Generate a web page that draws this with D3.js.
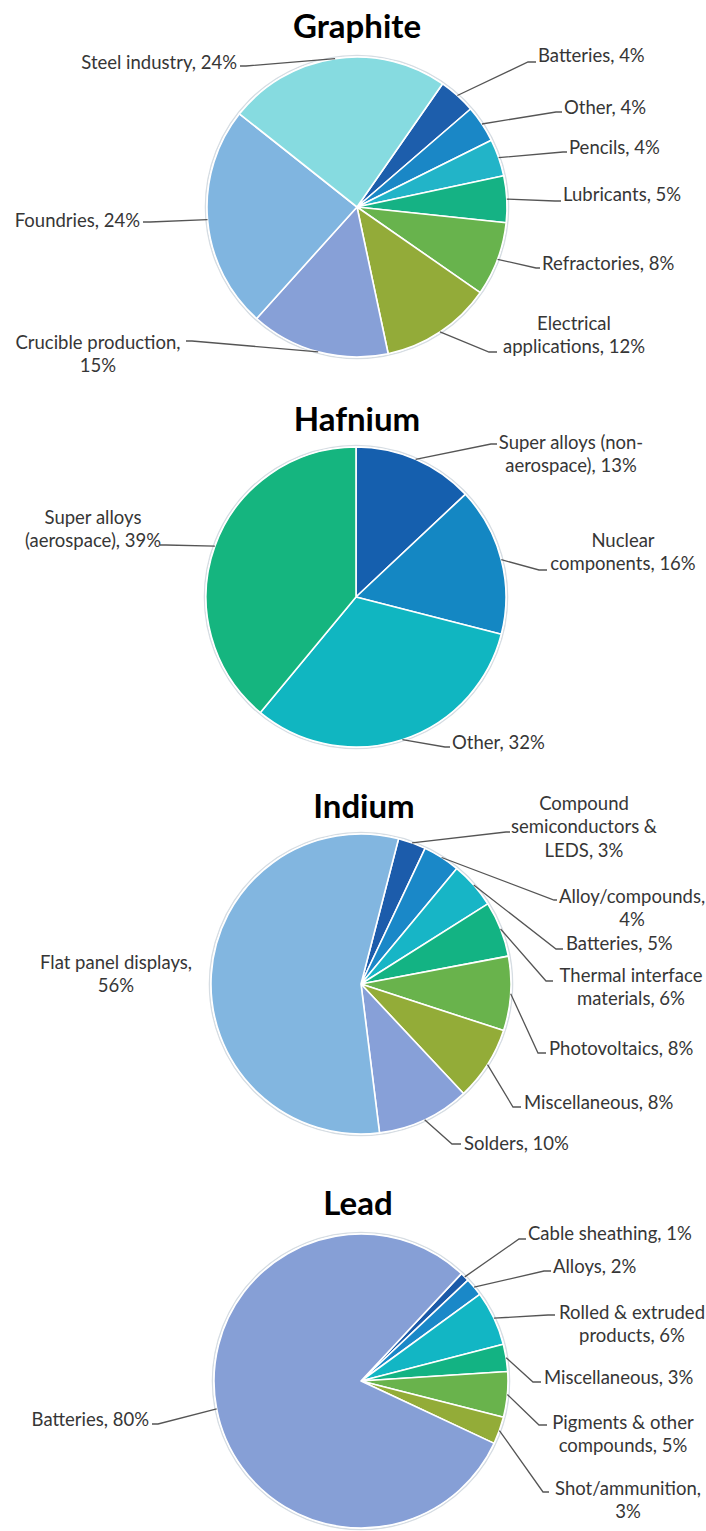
<!DOCTYPE html>
<html>
<head>
<meta charset="utf-8">
<script src="https://cdn.jsdelivr.net/npm/d3@7"></script>
<style>
  html, body { margin: 0; padding: 0; background: #fff; }
  svg { display: block; }
  .lbl { font-family: Lato, "Open Sans", sans-serif; font-size: 18.5px; fill: #363636; }
  .ttl { font-family: Lato, "Open Sans", sans-serif; font-weight: 700; font-size: 33px; fill: #000; }
  .leader { fill: none; stroke: #555; stroke-width: 1.3; }
</style>
</head>
<body>
<svg id="chart" width="706" height="1531"></svg>
<script>
// ---- Data: end uses by share (%) ----
const graphiteCategories = ["Batteries", "Other", "Pencils", "Lubricants", "Refractories",
  "Electrical applications", "Crucible production", "Foundries", "Steel industry"];
const graphiteValues = [4, 4, 4, 5, 8, 12, 15, 24, 24];

const hafniumCategories = ["Super alloys (non-aerospace)", "Nuclear components", "Other",
  "Super alloys (aerospace)"];
const hafniumValues = [13, 16, 32, 39];

const indiumCategories = ["Compound semiconductors & LEDS", "Alloy/compounds", "Batteries",
  "Thermal interface materials", "Photovoltaics", "Miscellaneous", "Solders", "Flat panel displays"];
const indiumValues = [3, 4, 5, 6, 8, 8, 10, 56];

const leadCategories = ["Cable sheathing", "Alloys", "Rolled & extruded products", "Miscellaneous",
  "Pigments & other compounds", "Shot/ammunition", "Batteries"];
const leadValues = [1, 2, 6, 3, 5, 3, 80];

// ---- Slice colours ----
const graphiteColors = ["#1d5eac", "#1a87c6", "#22b4c8", "#15b284", "#68b34d", "#93ab39",
  "#87a0d7", "#80b5e0", "#86dbe0"];
const hafniumColors = ["#155fae", "#1487c3", "#10b6c1", "#15b57f"];
const indiumColors = ["#1c5cab", "#1a88c8", "#17b5c6", "#13b383", "#69b34c", "#93ac38",
  "#87a0d8", "#82b6e0"];
const leadColors = ["#1b5aa8", "#1a88c8", "#12b6c4", "#13b383", "#69b34c", "#93ac38", "#869fd6"];

// ---- Layout of each panel: pie geometry, title and label placement ----
const graphiteLayout = {
  title: "Graphite", titleX: 357, titleY: 26, cx: 357, cy: 207, r: 150, start: 34.8,
  labels: [
    { x: 538, y: 55, a: "start", lead: [[528, 62], [536, 62]] },
    { x: 564, y: 107, a: "start", lead: [[556, 112], [562, 112]] },
    { x: 569, y: 147, a: "start", lead: [[563, 152], [567, 152]] },
    { x: 563, y: 194, a: "start", lead: [[555, 201], [561, 201]] },
    { x: 542, y: 263, a: "start", lead: [[536, 268], [540, 268]] },
    { x: 574, y: 323, a: "middle", br: ["Electrical"], lead: [[489, 352], [497, 352]] },
    { x: 98, y: 342, a: "middle", br: ["production,"], lead: [[192, 341], [186, 341]] },
    { x: 140, y: 220, a: "end", lead: [[150, 222], [143, 222]] },
    { x: 237, y: 62, a: "end", lead: [[246, 66], [240, 66]] }
  ]
};

const hafniumLayout = {
  title: "Hafnium", titleX: 357, titleY: 419, cx: 356, cy: 597, r: 150, start: 0,
  labels: [
    { x: 571, y: 442, a: "middle", br: ["(non-"], lead: [[491, 444], [497, 444]] },
    { x: 623, y: 540, a: "middle", br: ["Nuclear"], lead: [[539, 570], [547, 570]] },
    { x: 452, y: 742, a: "start", lead: [[445, 747], [450, 747]] },
    { x: 93, y: 517, a: "middle", br: ["alloys"], lead: [[166, 545], [160, 545]] }
  ]
};

const indiumLayout = {
  title: "Indium", titleX: 364, titleY: 806, cx: 361, cy: 984, r: 150, start: 14.5,
  labels: [
    { x: 584, y: 803, a: "middle", br: ["Compound", "semiconductors &"], lead: [[506, 832], [510, 832]] },
    { x: 632, y: 896, a: "middle", br: ["compounds,"], lead: [[554, 900], [557, 900]] },
    { x: 566, y: 943, a: "start", lead: [[556, 949], [563, 949]] },
    { x: 631, y: 975, a: "middle", br: ["interface"], lead: [[546, 981], [553, 981]] },
    { x: 549, y: 1048, a: "start", lead: [[538, 1053], [546, 1053]] },
    { x: 524, y: 1102, a: "start", lead: [[513, 1107], [521, 1107]] },
    { x: 464, y: 1143, a: "start", lead: [[452, 1144], [461, 1144]] },
    { x: 116, y: 962, a: "middle", br: ["displays,"], lead: null }
  ]
};

const leadLayout = {
  title: "Lead", titleX: 358, titleY: 1203, cx: 361, cy: 1381, r: 147, start: 43.1,
  labels: [
    { x: 528, y: 1233, a: "start", lead: [[519, 1239], [526, 1239]] },
    { x: 553, y: 1266, a: "start", lead: [[544, 1271], [551, 1271]] },
    { x: 632, y: 1312, a: "middle", br: ["extruded"], lead: [[548, 1315], [555, 1315]] },
    { x: 544, y: 1377, a: "start", lead: [[533, 1382], [541, 1382]] },
    { x: 623, y: 1422, a: "middle", br: ["other"], lead: [[539, 1425], [547, 1425]] },
    { x: 628, y: 1488, a: "middle", br: ["ammunition,"], lead: [[543, 1492], [549, 1492]] },
    { x: 149, y: 1419, a: "end", lead: [[158, 1424], [152, 1424]] }
  ]
};

const LINE_HEIGHT = 23.5;
const svg = d3.select("#chart");

// Split a label after each given marker, in order.
function splitLines(text, markers) {
  if (!markers) return [text];
  const lines = [];
  let rest = text;
  markers.forEach(m => {
    const i = rest.indexOf(m);
    if (i >= 0) {
      lines.push(rest.slice(0, i + m.length).trim());
      rest = rest.slice(i + m.length).trim();
    }
  });
  lines.push(rest);
  return lines;
}

function drawPie(categories, values, colors, layout) {
  const g = svg.append("g").attr("class", "panel");
  const rad = Math.PI / 180;
  const start = layout.start * rad;

  const pie = d3.pie().sort(null).value(d => d.value)
    .startAngle(start).endAngle(start + 2 * Math.PI);
  const arcs = pie(categories.map((c, i) => ({ name: c, value: values[i] })));

  const arc = d3.arc().innerRadius(0).outerRadius(layout.r);
  const edge = d3.arc().innerRadius(layout.r).outerRadius(layout.r);
  const color = d3.scaleOrdinal().domain(categories).range(colors);

  const pieG = g.append("g").attr("transform", `translate(${layout.cx},${layout.cy})`);

  // soft rim around the disc
  pieG.append("circle")
    .attr("r", layout.r + 1.6)
    .attr("fill", "#fff")
    .attr("stroke", "#d6dde3")
    .attr("stroke-width", 1.4);

  pieG.selectAll("path.slice")
    .data(arcs)
    .join("path")
    .attr("class", "slice")
    .attr("d", arc)
    .attr("fill", d => color(d.data.name))
    .attr("stroke", "#fff")
    .attr("stroke-width", 1.6)
    .attr("stroke-linejoin", "round");

  // leader lines from slice edge to label
  arcs.forEach((d, i) => {
    const lab = layout.labels[i];
    if (!lab || !lab.lead) return;
    const c = edge.centroid(d);
    const pts = [[layout.cx + c[0], layout.cy + c[1]]].concat(lab.lead);
    g.append("path").attr("class", "leader").attr("d", d3.line()(pts));
  });

  // data labels: "Category, value%"
  arcs.forEach((d, i) => {
    const lab = layout.labels[i];
    const full = `${d.data.name}, ${d.data.value}%`;
    const lines = splitLines(full, lab.br);
    const t = g.append("text")
      .attr("class", "lbl")
      .attr("text-anchor", lab.a)
      .attr("x", lab.x)
      .attr("y", lab.y);
    lines.forEach((ln, k) => {
      t.append("tspan")
        .attr("x", lab.x)
        .attr("y", lab.y + k * LINE_HEIGHT)
        .attr("dy", "0.36em")
        .text(ln);
    });
  });

  g.append("text")
    .attr("class", "ttl")
    .attr("x", layout.titleX)
    .attr("y", layout.titleY)
    .attr("dy", "0.36em")
    .attr("text-anchor", "middle")
    .text(layout.title);
}

drawPie(graphiteCategories, graphiteValues, graphiteColors, graphiteLayout);
drawPie(hafniumCategories, hafniumValues, hafniumColors, hafniumLayout);
drawPie(indiumCategories, indiumValues, indiumColors, indiumLayout);
drawPie(leadCategories, leadValues, leadColors, leadLayout);
</script>
</body>
</html>
